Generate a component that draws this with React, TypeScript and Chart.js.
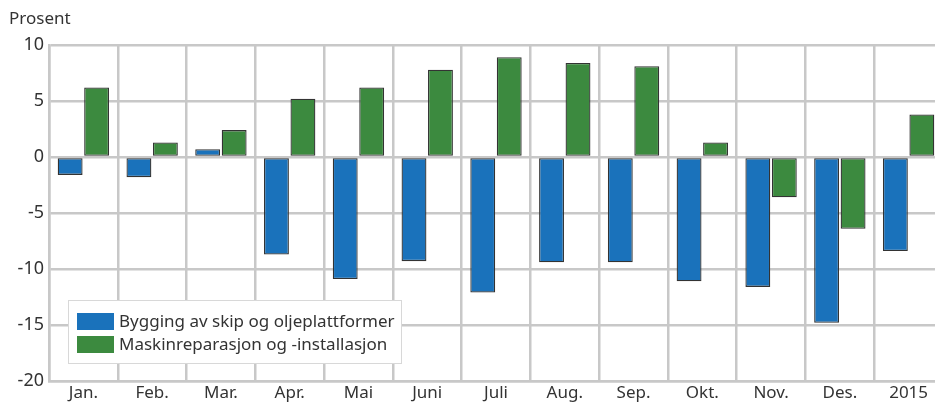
import React, { useEffect, useRef } from "react";
import { Chart, registerables } from "chart.js";

Chart.register(...registerables);

const categories = ["Jan.", "Feb.", "Mar.", "Apr.", "Mai", "Juni", "Juli", "Aug.", "Sep.", "Okt.", "Nov.", "Des.", "2015"];
const seriesNames = ["Bygging av skip og oljeplattformer", "Maskinreparasjon og -installasjon"];
const bygging = [-1.6, -1.8, 0.7, -8.7, -10.9, -9.3, -12.1, -9.4, -9.4, -11.1, -11.6, -14.8, -8.4];
const maskin = [6.2, 1.3, 2.4, 5.2, 6.2, 7.8, 8.9, 8.4, 8.1, 1.3, -3.6, -6.4, 3.8];
const yTicks = [10, 5, 0, -5, -10, -15, -20];
const yUnit = "Prosent";

const FONT = "'Noto Sans', sans-serif";
const GRID = "#c8c8c8";
const TEXT = "#333333";
const BLUE = "#1a72bb";
const GREEN = "#3c8a3f";

const overlayPlugin = {
  id: "overlay",
  afterDraw(chart: any) {
    const ctx = chart.ctx;
    ctx.save();
    ctx.fillStyle = TEXT;
    ctx.font = `17px ${FONT}`;
    ctx.textBaseline = "middle";
    ctx.textAlign = "left";
    ctx.fillText(yUnit, 9, 19);

    // legend box
    const bx = 68, by = 300, bw = 334, bh = 64;
    ctx.fillStyle = "#ffffff";
    ctx.fillRect(bx, by, bw, bh);
    ctx.strokeStyle = "#d8d8d8";
    ctx.lineWidth = 1;
    ctx.strokeRect(bx + 0.5, by + 0.5, bw - 1, bh - 1);
    chart.data.datasets.forEach((ds: any, i: number) => {
      const y = 313 + i * 23;
      ctx.fillStyle = ds.backgroundColor;
      ctx.fillRect(77, y, 37, 17);
      ctx.fillStyle = TEXT;
      ctx.font = `17px ${FONT}`;
      ctx.textBaseline = "middle";
      ctx.fillText(ds.label, 119, y + 9);
    });
    ctx.restore();
  },
};

export default function App() {
  const ref = useRef<HTMLCanvasElement | null>(null);
  useEffect(() => {
    document.body.style.margin = "0";
    if (!ref.current) return;
    const chart = new Chart(ref.current, {
      type: "bar",
      data: {
        labels: categories,
        datasets: [
          {
            label: seriesNames[0],
            data: bygging,
            backgroundColor: BLUE,
            borderColor: "#333333",
            borderWidth: 1.3,
            borderSkipped: false,
          },
          {
            label: seriesNames[1],
            data: maskin,
            backgroundColor: GREEN,
            borderColor: "#333333",
            borderWidth: 1.3,
            borderSkipped: false,
          },
        ],
      },
      options: {
        animation: false,
        responsive: false,
        maintainAspectRatio: false,
        devicePixelRatio: 1,
        categoryPercentage: 0.77,
        barPercentage: 0.94,
        layout: { padding: { top: 45, left: 0, right: 2, bottom: 0 } },
        plugins: {
          legend: { display: false },
          tooltip: { enabled: false },
          title: { display: false },
        },
        scales: {
          x: {
            grid: { color: GRID, lineWidth: 2.5, offset: true, drawTicks: false },
            border: { color: GRID, width: 2.5 },
            ticks: { color: TEXT, font: { family: FONT, size: 17 }, padding: 2 },
            afterFit(scale: any) {
              scale.height = 24;
            },
          },
          y: {
            min: -20,
            max: 10,
            afterBuildTicks(scale: any) {
              scale.ticks = yTicks.map((v) => ({ value: v }));
            },
            grid: { color: GRID, lineWidth: 2.5, drawTicks: false },
            border: { color: GRID, width: 2.5 },
            ticks: { color: TEXT, font: { family: FONT, size: 18 }, padding: 5 },
            afterFit(scale: any) {
              scale.width = 49;
            },
          },
        },
      },
      plugins: [overlayPlugin],
    });
    return () => chart.destroy();
  }, []);
  return (
    <div style={{ width: 935, height: 405, overflow: "hidden", position: "relative" }}>
      <canvas ref={ref} width={945} height={405} style={{ display: "block" }} />
    </div>
  );
}
